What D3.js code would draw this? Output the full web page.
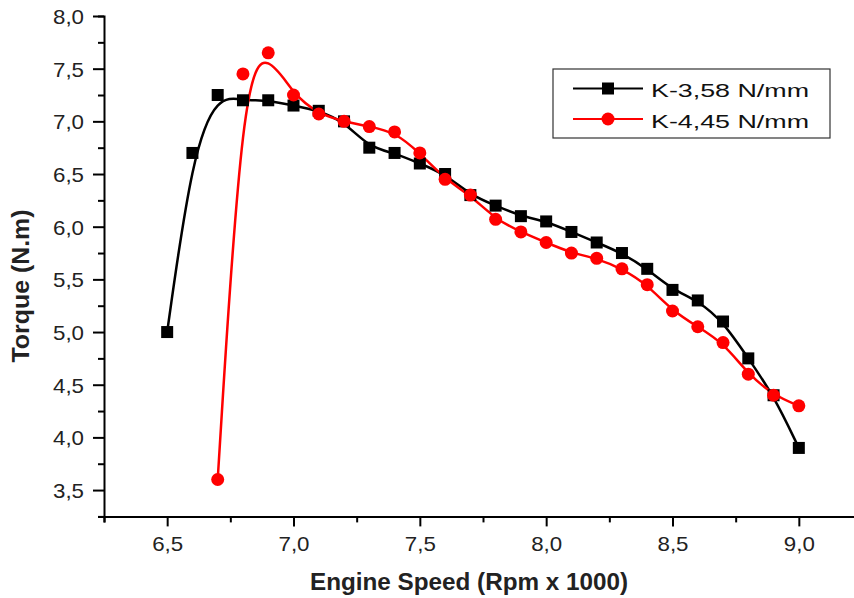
<!DOCTYPE html>
<html>
<head>
<meta charset="utf-8">
<script src="https://cdn.jsdelivr.net/npm/d3@7"></script>
<style>
  body { margin: 0; background: #fff; }
  text { font-family: "Liberation Sans", Arial, sans-serif; }
</style>
</head>
<body>
<svg id="chart" width="854" height="598"></svg>
<script>
// engine speed (rpm x 1000)
const speedA = [6.5, 6.6, 6.7, 6.8, 6.9, 7.0, 7.1, 7.2, 7.3, 7.4, 7.5, 7.6, 7.7, 7.8, 7.9,
                8.0, 8.1, 8.2, 8.3, 8.4, 8.5, 8.6, 8.7, 8.8, 8.9, 9.0];
const torqueA = [5.0, 6.7, 7.25, 7.2, 7.2, 7.15, 7.1, 7.0, 6.75, 6.7, 6.6, 6.5, 6.3, 6.2, 6.1,
                 6.05, 5.95, 5.85, 5.75, 5.6, 5.4, 5.3, 5.1, 4.75, 4.4, 3.9];
const speedB = [6.7, 6.8, 6.9, 7.0, 7.1, 7.2, 7.3, 7.4, 7.5, 7.6, 7.7, 7.8, 7.9,
                8.0, 8.1, 8.2, 8.3, 8.4, 8.5, 8.6, 8.7, 8.8, 8.9, 9.0];
const torqueB = [3.6, 7.45, 7.65, 7.25, 7.07, 7.0, 6.95, 6.9, 6.7, 6.45, 6.3, 6.07, 5.95,
                 5.85, 5.75, 5.7, 5.6, 5.45, 5.2, 5.05, 4.9, 4.6, 4.4, 4.3];
const seriesNames = ["K-3,58 N/mm", "K-4,45 N/mm"];
const xTicks = [6.5, 7.0, 7.5, 8.0, 8.5, 9.0];
const yTicks = [3.5, 4.0, 4.5, 5.0, 5.5, 6.0, 6.5, 7.0, 7.5, 8.0];

const svg = d3.select("#chart");
const x = d3.scaleLinear().domain([6.25, 9.25]).range([104, 862]);
const y = d3.scaleLinear().domain([3.25, 8.0]).range([516.4, 16]);
const fmt = v => d3.format(".1f")(v).replace(".", ",");
const isMajor = list => d => list.some(t => Math.abs(t - d) < 1e-6);

// x axis
const xAxis = svg.append("g").attr("transform", `translate(0,${y(3.25)})`);
xAxis.call(d3.axisBottom(x).tickValues(d3.range(6.25, 9.26, 0.25)).tickSize(6).tickFormat(""));
xAxis.selectAll(".tick").filter(isMajor(xTicks)).select("line").attr("y2", 10);
xAxis.selectAll(".tick").filter(isMajor(xTicks))
  .append("text").attr("y", 35).attr("fill", "#222").attr("font-size", 21)
  .attr("text-anchor", "middle").attr("textLength", 31).attr("lengthAdjust", "spacingAndGlyphs")
  .text(d => fmt(d));
xAxis.select(".domain").attr("stroke-width", 2);
xAxis.selectAll("line").attr("stroke-width", 2);

// y axis
const yAxis = svg.append("g").attr("transform", `translate(${x(6.25)},0)`);
yAxis.call(d3.axisLeft(y).tickValues(d3.range(3.25, 8.01, 0.25)).tickSize(6).tickFormat(""));
yAxis.selectAll(".tick").filter(isMajor(yTicks)).select("line").attr("x2", -11);
yAxis.selectAll(".tick").filter(isMajor(yTicks))
  .append("text").attr("x", -20).attr("dy", "0.36em").attr("fill", "#222").attr("font-size", 21)
  .attr("text-anchor", "end").attr("textLength", 31).attr("lengthAdjust", "spacingAndGlyphs")
  .text(d => fmt(d));
yAxis.select(".domain").attr("stroke-width", 2);
yAxis.selectAll("line").attr("stroke-width", 2);

// axis titles
svg.append("text").attr("x", 469).attr("y", 590).attr("text-anchor", "middle")
  .attr("font-size", 23).attr("font-weight", "bold").attr("fill", "#222")
  .attr("textLength", 318).attr("lengthAdjust", "spacingAndGlyphs")
  .text("Engine Speed (Rpm x 1000)");
svg.append("text").attr("transform", "translate(29,286) rotate(-90)")
  .attr("text-anchor", "middle").attr("font-size", 24).attr("font-weight", "bold").attr("fill", "#222")
  .attr("textLength", 153).attr("lengthAdjust", "spacingAndGlyphs")
  .text("Torque (N.m)");

// curves
const line = d3.line().x(d => x(d[0])).y(d => y(d[1])).curve(d3.curveBasis);
const dataA = speedA.map((s, i) => [s, torqueA[i]]);
const dataB = speedB.map((s, i) => [s, torqueB[i]]);

svg.append("path").datum(dataA).attr("d", line).attr("fill", "none")
  .attr("stroke", "#000").attr("stroke-width", 2.5);
svg.append("path").datum(dataB).attr("d", line).attr("fill", "none")
  .attr("stroke", "#ff0000").attr("stroke-width", 2.5);

svg.append("g").selectAll("rect").data(dataA).enter().append("rect")
  .attr("x", d => x(d[0]) - 6).attr("y", d => y(d[1]) - 6)
  .attr("width", 12).attr("height", 12).attr("fill", "#000");
svg.append("g").selectAll("circle").data(dataB).enter().append("circle")
  .attr("cx", d => x(d[0])).attr("cy", d => y(d[1])).attr("r", 6.5).attr("fill", "#ff0000");

// legend
const legend = svg.append("g");
legend.append("rect").attr("x", 553).attr("y", 69).attr("width", 277).attr("height", 69)
  .attr("fill", "#fff").attr("stroke", "#333").attr("stroke-width", 1.2);
[["#000", "rect"], ["#ff0000", "circle"]].forEach(([c, shape], i) => {
  const cy = 88.5 + i * 30.5;
  legend.append("line").attr("x1", 573).attr("x2", 643).attr("y1", cy).attr("y2", cy)
    .attr("stroke", c).attr("stroke-width", 2);
  if (shape === "rect") {
    legend.append("rect").attr("x", 602).attr("y", cy - 6).attr("width", 12).attr("height", 12).attr("fill", c);
  } else {
    legend.append("circle").attr("cx", 608).attr("cy", cy).attr("r", 6.5).attr("fill", c);
  }
  legend.append("text").attr("x", 651).attr("y", cy + 8.5)
    .attr("font-size", 19).attr("fill", "#111")
    .attr("textLength", 158).attr("lengthAdjust", "spacingAndGlyphs")
    .text(seriesNames[i]);
});
</script>
</body>
</html>
